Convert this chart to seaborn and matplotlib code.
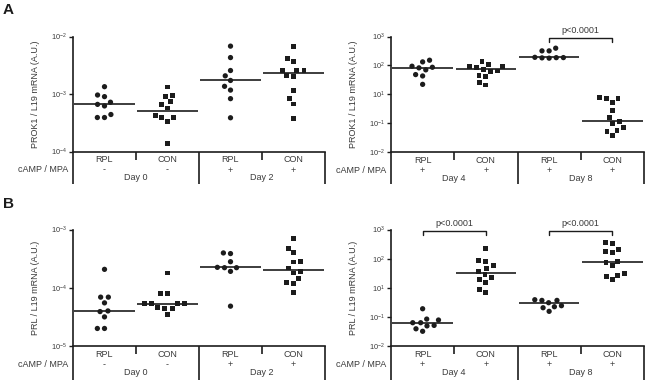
import numpy as np
import pandas as pd
import matplotlib
matplotlib.use("Agg")
import matplotlib.pyplot as plt
import seaborn as sns
from matplotlib.transforms import blended_transform_factory
from matplotlib.ticker import NullLocator

sns.set_style("ticks")
plt.rcParams["font.family"] = ["Liberation Sans", "DejaVu Sans"]
plt.rcParams["mathtext.fontset"] = "custom"
plt.rcParams["mathtext.rm"] = "Liberation Sans"
plt.rcParams["mathtext.it"] = "Liberation Sans:italic"
plt.rcParams["mathtext.bf"] = "Liberation Sans:bold"

# ---------------- data ----------------
groups = ["RPL", "CON", "RPL", "CON"]
treat_left = ["-", "-", "+", "+"]
treat_right = ["+", "+", "+", "+"]
days_left = ["Day 0", "Day 2"]
days_right = ["Day 4", "Day 8"]

# Panel A (PROK1 / L19)
a_rpl_d0 = [1.34e-3, 9.0e-4, 9.6e-4, 7.2e-4, 6.6e-4, 6.2e-4, 4.4e-4, 3.9e-4, 3.9e-4]
a_con_d0 = [1.32e-3, 9.5e-4, 8.9e-4, 7.3e-4, 6.5e-4, 5.7e-4, 4.3e-4, 3.9e-4, 3.9e-4, 3.3e-4, 1.39e-4]
a_rpl_d2 = [6.8e-3, 4.3e-3, 2.56e-3, 2.07e-3, 1.72e-3, 1.36e-3, 1.17e-3, 8.3e-4, 3.86e-4]
a_con_d2 = [6.8e-3, 4.2e-3, 3.7e-3, 2.6e-3, 2.56e-3, 2.53e-3, 2.07e-3, 1.99e-3, 1.16e-3, 8.4e-4, 6.7e-4, 3.7e-4]
a_left_lines = [6.7e-4, 5.0e-4, 1.72e-3, 2.3e-3]

a_rpl_d4 = [151, 132, 93.5, 86, 82, 70, 48, 43, 22]
a_con_d4 = [136, 110, 93.5, 91, 82, 74, 64, 61, 46, 40, 25, 21]
a_rpl_d8 = [394, 318, 318, 190, 185, 182, 178, 186]
a_con_d8 = [7.65, 7.1, 7.1, 5.1, 2.8, 1.55, 1.13, 0.94, 0.72, 0.56, 0.53, 0.37]
a_right_lines = [80, 74, 202, 1.22]

# Panel B (PRL / L19)
b_rpl_d0 = [2.07e-4, 6.9e-5, 6.9e-5, 5.5e-5, 4.0e-5, 3.9e-5, 3.16e-5, 2.0e-5, 2.0e-5]
b_con_d0 = [1.79e-4, 8.1e-5, 8.1e-5, 5.45e-5, 5.3e-5, 5.3e-5, 5.4e-5, 4.6e-5, 4.46e-5, 4.46e-5, 3.47e-5]
b_rpl_d2 = [3.96e-4, 3.86e-4, 2.8e-4, 2.21e-4, 2.21e-4, 2.24e-4, 1.91e-4, 4.83e-5]
b_con_d2 = [7.0e-4, 4.77e-4, 4.0e-4, 2.85e-4, 2.77e-4, 2.18e-4, 1.89e-4, 1.79e-4, 1.45e-4, 1.25e-4, 1.2e-4, 8.2e-5]
b_left_lines = [4.06e-5, 5.2e-5, 2.24e-4, 2.02e-4]

b_rpl_d4 = [1.9, 0.84, 0.78, 0.63, 0.63, 0.51, 0.49, 0.39, 0.32]
b_con_d4 = [223, 84, 82, 58, 47, 37, 28, 22, 18.8, 15.6, 8.5, 6.9]
b_rpl_d8 = [3.88, 3.68, 3.68, 3.06, 2.42, 2.23, 2.06, 1.55]
b_con_d8 = [368, 331, 201, 172, 158, 82, 72, 57, 31.8, 27, 25, 18.8]
b_right_lines = [0.615, 31.8, 2.98, 76]

left_a_ticks = [1e-4, 1e-3, 1e-2]
left_a_labels = [r"$10^{-4}$", r"$10^{-3}$", r"$10^{-2}$"]
left_b_ticks = [1e-5, 1e-4, 1e-3]
left_b_labels = [r"$10^{-5}$", r"$10^{-4}$", r"$10^{-3}$"]
right_ticks = [1e-1, 1e0, 1e1, 1e2, 1e3]
right_labels = [r"$10^{-2}$", r"$10^{-1}$", r"$10^{1}$", r"$10^{2}$", r"$10^{3}$"]

INK = "#1c1c1c"
TXT = "#3a3a3a"
W, H = 648, 380

fig = plt.figure(figsize=(W / 100, H / 100), dpi=100)


def panel(px_rect, rpl_a, con_a, rpl_b, con_b, lines, ylim, ticks, ticklabels,
          ylabel, treat, days, brackets, bottom_len):
    x0, y0, x1, y1 = px_rect  # pixel: left, top, right, bottom
    rect = [x0 / W, 1 - y1 / H, (x1 - x0) / W, (y1 - y0) / H]
    hpx = y1 - y0
    ax = fig.add_axes(rect)
    ax.set_yscale("log")
    order = ["g0", "g1", "g2", "g3"]
    df_r = pd.DataFrame({"grp": ["g0"] * len(rpl_a) + ["g2"] * len(rpl_b),
                         "val": list(rpl_a) + list(rpl_b)})
    df_c = pd.DataFrame({"grp": ["g1"] * len(con_a) + ["g3"] * len(con_b),
                         "val": list(con_a) + list(con_b)})
    sns.swarmplot(data=df_r, x="grp", y="val", order=order, marker="o", size=3.8,
                  color=INK, linewidth=1.1, edgecolor="none", ax=ax)
    sns.swarmplot(data=df_c, x="grp", y="val", order=order, marker="s", size=3.5,
                  color=INK, linewidth=1.4, edgecolor="none", ax=ax)
    for i, v in enumerate(lines):
        ax.hlines(v, i - 0.48, i + 0.48, color=INK, lw=1.2, zorder=4)
    ax.set_xlim(-0.5, 3.5)
    ax.set_ylim(*ylim)
    ax.set_yticks(ticks)
    ax.set_yticklabels(ticklabels)
    ax.yaxis.set_minor_locator(NullLocator())
    ax.set_xticks([])
    ax.set_xlabel("")
    ax.set_ylabel(ylabel, fontsize=6.5, color=TXT)
    ax.yaxis.set_label_coords(-33 / (x1 - x0), 0.5)
    ax.tick_params(axis="y", length=3, width=1.0, labelsize=5.3, pad=1.5,
                   colors=INK, labelcolor=TXT)
    for s in ["top", "right"]:
        ax.spines[s].set_visible(False)
    for s in ["left", "bottom"]:
        ax.spines[s].set_linewidth(1.2)
        ax.spines[s].set_color(INK)

    trans = blended_transform_factory(ax.transData, ax.transAxes)
    # table lines below axis
    for xv in [-0.5, 1.5, 3.5]:
        ax.plot([xv, xv], [0, -bottom_len / hpx], transform=trans, clip_on=False,
                color=INK, lw=1.2, solid_capstyle="butt")
    for xv in [0.5, 2.5]:
        ax.plot([xv, xv], [0, -8 / hpx], transform=trans, clip_on=False,
                color=INK, lw=1.2, solid_capstyle="butt")
    for i, (g, t) in enumerate(zip(groups, treat)):
        ax.annotate(g, xy=(i, 0), xycoords=trans, xytext=(0, -8.5),
                    textcoords="offset pixels", ha="center", va="center",
                    fontsize=6.5, color=TXT)
        ax.annotate(t, xy=(i, 0), xycoords=trans, xytext=(0, -18.5),
                    textcoords="offset pixels", ha="center", va="center",
                    fontsize=6.5, color=TXT)
    for k, d in enumerate(days):
        ax.annotate(d, xy=(0.5 + 2 * k, 0), xycoords=trans, xytext=(0, -26.5),
                    textcoords="offset pixels", ha="center", va="center",
                    fontsize=6.5, color=TXT)
    ax.annotate("cAMP / MPA", xy=(0, 0), xycoords="axes fraction",
                xytext=(-5, -18.5), textcoords="offset pixels", ha="right",
                va="center", fontsize=6.5, color=TXT)
    # significance brackets
    for (i, j) in brackets:
        ytop = 1 - 1 / hpx
        ax.plot([i, i, j, j], [ytop - 4 / hpx, ytop, ytop, ytop - 4 / hpx],
                transform=trans, clip_on=False, color=INK, lw=1.0)
        ax.annotate("p<0.0001", xy=((i + j) / 2, 1), xycoords=trans,
                    xytext=(0, 6), textcoords="offset pixels", ha="center",
                    va="center", fontsize=6.5, color=TXT)
    return ax


panel((73, 36.5, 325, 151.5), a_rpl_d0, a_con_d0, a_rpl_d2, a_con_d2, a_left_lines,
      (1e-4, 1e-2), left_a_ticks, left_a_labels, "PROK1 / L19 mRNA (A.U.)",
      treat_left, days_left, [], 32)
panel((391, 36.5, 644, 152), a_rpl_d4, a_con_d4, a_rpl_d8, a_con_d8, a_right_lines,
      (1e-1, 1e3), right_ticks, right_labels, "PROK1 / L19 mRNA (A.U.)",
      treat_right, days_right, [(2, 3)], 32)
panel((73, 229.5, 325, 346), b_rpl_d0, b_con_d0, b_rpl_d2, b_con_d2, b_left_lines,
      (1e-5, 1e-3), left_b_ticks, left_b_labels, "PRL / L19 mRNA (A.U.)",
      treat_left, days_left, [], 34)
panel((391, 229.5, 644, 346), b_rpl_d4, b_con_d4, b_rpl_d8, b_con_d8, b_right_lines,
      (1e-1, 1e3), right_ticks, right_labels, "PRL / L19 mRNA (A.U.)",
      treat_right, days_right, [(0, 1), (2, 3)], 34)

fig.text(3 / W, 1 - 10 / H, "A", fontsize=11, fontweight="bold", color=INK,
         ha="left", va="center")
fig.text(3 / W, 1 - 204 / H, "B", fontsize=11, fontweight="bold", color=INK,
         ha="left", va="center")

fig.savefig("out.png", dpi=100)
